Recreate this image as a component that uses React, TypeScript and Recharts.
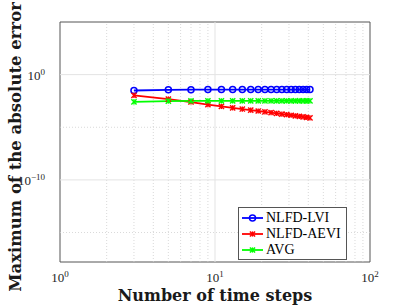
import { LineChart, Line, XAxis, YAxis, ReferenceLine, ReferenceArea, Legend } from 'recharts';

const steps = [3, 5, 7, 9, 11, 13, 15, 17, 19, 21, 23, 25, 27, 29, 31, 33, 35, 37, 39, 41];
const lviErr = [0.031, 0.036, 0.037, 0.038, 0.038, 0.038, 0.038, 0.038, 0.038, 0.038, 0.038, 0.038, 0.038, 0.038, 0.038, 0.038, 0.038, 0.038, 0.038, 0.038];
const aeviErr = [1.05e-2, 4.8e-3, 2.5e-3, 1.4e-3, 9.5e-4, 7.0e-4, 5.4e-4, 4.3e-4, 3.5e-4, 2.9e-4, 2.45e-4, 2.1e-4, 1.8e-4, 1.57e-4, 1.38e-4, 1.22e-4, 1.09e-4, 9.8e-5, 8.8e-5, 7.8e-5];
const avgErr = [0.0026, 0.0031, 0.0032, 0.0032, 0.0032, 0.0032, 0.0032, 0.0032, 0.0032, 0.0032, 0.0032, 0.0032, 0.0032, 0.0032, 0.0032, 0.0032, 0.0032, 0.0032, 0.0032, 0.0032];

const xTicks = [1, 10, 100];
const xMinor = [2, 3, 4, 5, 6, 7, 8, 9, 20, 30, 40, 50, 60, 70, 80, 90];
const yTicks = [1e-10, 1];
const yMinor = [1e-15, 1e-5];
const yDomain = [Math.pow(10, -17.8), 1e5];

const data = steps.map((n, i) => ({ n, lvi: lviErr[i], aevi: aeviErr[i], avg: avgErr[i] }));

const serif = 'Liberation Serif, serif';
const boldSerif = 'DejaVu Serif, serif';

const expLabel = (v: number) => {
  const e = Math.round(Math.log10(v));
  return e < 0 ? '\u2212' + Math.abs(e) : String(e);
};

const XTick = ({ x, y, payload }: any) => (
  <text x={x} y={y + 12} textAnchor="middle" fontFamily={serif} fontSize={13} fill="#262626">
    10<tspan dy={-5} fontSize={9}>{expLabel(payload.value)}</tspan>
  </text>
);

const YTick = ({ x, y, payload }: any) => (
  <text x={x - 7} y={y + 5} textAnchor="end" fontFamily={serif} fontSize={13} fill="#262626">
    10<tspan dy={-5} fontSize={9}>{expLabel(payload.value)}</tspan>
  </text>
);

const YTitle = ({ viewBox }: any) => {
  const cx = viewBox.x + 21;
  const cy = viewBox.y + viewBox.height / 2 + 5;
  return (
    <text x={cx} y={cy} transform={`rotate(-90, ${cx}, ${cy})`} textAnchor="middle"
      fontFamily={boldSerif} fontWeight="bold" fontSize={16.5} fill="#1a1a1a">
      Maximum of the absolute error
    </text>
  );
};

const Star = ({ cx, cy, color }: any) => {
  const s = 2.6;
  return (
    <g stroke={color} strokeWidth={1.4}>
      <line x1={cx - s} y1={cy - s} x2={cx + s} y2={cy + s} />
      <line x1={cx - s} y1={cy + s} x2={cx + s} y2={cy - s} />
      <line x1={cx} y1={cy - s} x2={cx} y2={cy + s} />
    </g>
  );
};

const legendItems = [
  { name: 'NLFD-LVI', color: '#0000ff', marker: 'o' },
  { name: 'NLFD-AEVI', color: '#ff0000', marker: '*' },
  { name: 'AVG', color: '#00ff00', marker: '*' },
];

const LegendBox = () => (
  <div style={{ width: 109, height: 53, border: '1px solid #555', background: '#fff', boxSizing: 'border-box', padding: '2px 0 0 2px' }}>
    {legendItems.map((it) => (
      <div key={it.name} style={{ display: 'flex', alignItems: 'center', height: 16 }}>
        <svg width={24} height={12}>
          <line x1={1} y1={6} x2={22} y2={6} stroke={it.color} strokeWidth={1.8} />
          {it.marker === 'o'
            ? <circle cx={11.5} cy={6} r={3} fill="none" stroke={it.color} strokeWidth={1.5} />
            : <Star cx={11.5} cy={6} color={it.color} />}
        </svg>
        <span style={{ fontFamily: serif, fontSize: 14, color: '#000', marginLeft: 1 }}>{it.name}</span>
      </div>
    ))}
  </div>
);

export default function App() {
  return (
    <div style={{ position: 'absolute', left: 0, top: 0, width: 409, height: 307, background: '#fff' }}>
      <LineChart width={409} height={307} data={data} margin={{ top: 22, right: 39, left: 0, bottom: 0 }}>
        {xMinor.map((v) => (
          <ReferenceLine key={'xm' + v} x={v} stroke="#cfcfcf" strokeDasharray="1 2" strokeWidth={0.8} />
        ))}
        {yMinor.map((v) => (
          <ReferenceLine key={'ym' + v} y={v} stroke="#cfcfcf" strokeDasharray="1 2" strokeWidth={0.8} />
        ))}
        <ReferenceLine x={10} stroke="#e3e3e3" strokeWidth={1} />
        {yTicks.map((v) => (
          <ReferenceLine key={'y' + v} y={v} stroke="#e3e3e3" strokeWidth={1} />
        ))}
        <XAxis
          dataKey="n"
          type="number"
          scale="log"
          domain={[1, 100]}
          ticks={xTicks}
          height={45}
          axisLine={false}
          tickLine={false}
          tick={<XTick />}
          allowDataOverflow
          label={{ value: 'Number of time steps', position: 'insideBottom', offset: 6, style: { fontFamily: boldSerif, fontWeight: 'bold', fontSize: 16, fill: '#1a1a1a' } }}
        />
        <YAxis
          type="number"
          scale="log"
          domain={yDomain}
          ticks={yTicks}
          width={60}
          axisLine={false}
          tickLine={false}
          tick={<YTick />}
          allowDataOverflow
          label={<YTitle />}
        />
        <ReferenceArea x1={1} x2={100} y1={yDomain[0]} y2={yDomain[1]} fill="none" stroke="#555" strokeWidth={1} />
        <Line dataKey="lvi" name="NLFD-LVI" stroke="#0000ff" strokeWidth={1.8} isAnimationActive={false}
          dot={{ r: 3, fill: 'none', stroke: '#0000ff', strokeWidth: 1.5 }} />
        <Line dataKey="aevi" name="NLFD-AEVI" stroke="#ff0000" strokeWidth={1.8} isAnimationActive={false}
          dot={(p: any) => <Star key={'a' + p.index} cx={p.cx} cy={p.cy} color="#ff0000" />} />
        <Line dataKey="avg" name="AVG" stroke="#00ff00" strokeWidth={1.8} isAnimationActive={false}
          dot={(p: any) => <Star key={'g' + p.index} cx={p.cx} cy={p.cy} color="#00ff00" />} />
        <Legend layout="vertical" align="center" verticalAlign="middle" content={<LegendBox />}
          wrapperStyle={{ position: 'absolute', left: 238, top: 207, width: 109 }} />
      </LineChart>
    </div>
  );
}
